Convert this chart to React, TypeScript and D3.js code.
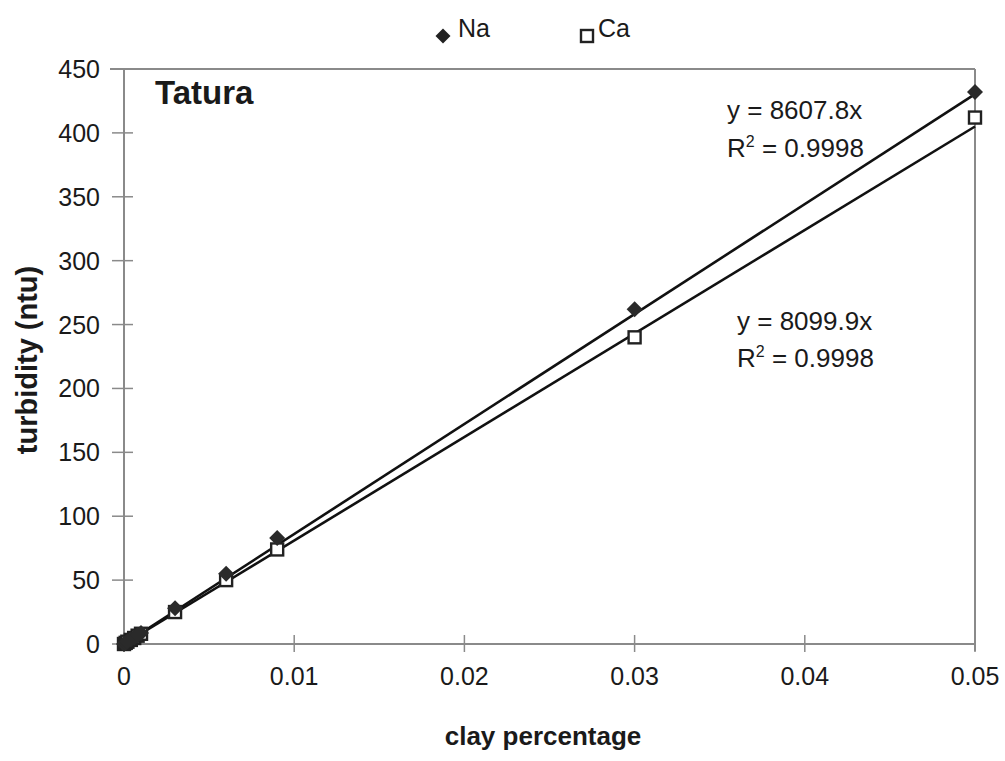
import React from "react";
import * as d3 from "d3";

const naX = [0, 0.0001, 0.0002, 0.0004, 0.0006, 0.0008, 0.001, 0.003, 0.006, 0.009, 0.03, 0.05];
const naY = [0, 1, 2, 3.5, 5, 7, 8.7, 28, 55, 83, 262, 432];
const caX = [0, 0.0001, 0.0002, 0.0004, 0.0006, 0.0008, 0.001, 0.003, 0.006, 0.009, 0.03, 0.05];
const caY = [0, 0.9, 1.8, 3.2, 4.7, 6.5, 8, 25, 50, 74, 240, 412];
const naSlope = 8607.8;
const caSlope = 8099.9;
const xTicks = [0, 0.01, 0.02, 0.03, 0.04, 0.05];
const yTicks = [0, 50, 100, 150, 200, 250, 300, 350, 400, 450];
const xTickLabels = ["0", "0.01", "0.02", "0.03", "0.04", "0.05"];

export default function App() {
  const x = d3.scaleLinear().domain([0, 0.05]).range([124, 975]);
  const y = d3.scaleLinear().domain([0, 450]).range([644, 69]);
  const line = d3
    .line<[number, number]>()
    .x((d) => x(d[0]))
    .y((d) => y(d[1]));
  const axisColor = "#8a8a8a";
  const ink = "#1a1a1a";
  const font = "Liberation Sans, Arial, sans-serif";
  const diamond = (cx: number, cy: number, r: number) =>
    `M${cx},${cy - r}L${cx + r},${cy}L${cx},${cy + r}L${cx - r},${cy}Z`;

  return (
    <svg
      width={1005}
      height={761}
      style={{ position: "absolute", left: 0, top: 0, background: "#fff" }}
      fontFamily={font}
    >
      {/* frame */}
      <line x1={110} x2={975} y1={y(450)} y2={y(450)} stroke={axisColor} strokeWidth={2} />
      <line x1={975} x2={975} y1={y(450)} y2={y(0) + 7} stroke={axisColor} strokeWidth={2} />
      <line x1={x(0)} x2={x(0)} y1={y(450)} y2={y(0)} stroke={axisColor} strokeWidth={2} />
      <line x1={x(0)} x2={975} y1={y(0)} y2={y(0)} stroke={axisColor} strokeWidth={2} />
      {yTicks.map((t) => (
        <g key={"y" + t}>
          <line x1={x(0) - 12} x2={x(0) + 9} y1={y(t)} y2={y(t)} stroke={axisColor} strokeWidth={1.5} />
          <text x={100} y={y(t)} dy="0.36em" textAnchor="end" fontSize={25} fill={ink}>
            {t}
          </text>
        </g>
      ))}
      {xTicks.map((t, i) => (
        <g key={"x" + t}>
          <line x1={x(t)} x2={x(t)} y1={y(0) - 9} y2={y(0) + 8} stroke={axisColor} strokeWidth={1.5} />
          <text x={x(t)} y={685} textAnchor="middle" fontSize={25} fill={ink}>
            {xTickLabels[i]}
          </text>
        </g>
      ))}

      {/* trend lines */}
      <path d={line([[0, 0], [0.05, naSlope * 0.05]]) || ""} stroke="#111" strokeWidth={2.6} fill="none" />
      <path d={line([[0, 0], [0.05, caSlope * 0.05]]) || ""} stroke="#111" strokeWidth={2.6} fill="none" />

      {/* Ca markers */}
      {caX.map((v, i) => (
        <rect
          key={"ca" + i}
          x={x(v) - 6}
          y={y(caY[i]) - 6}
          width={12}
          height={12}
          fill="#fff"
          stroke="#222"
          strokeWidth={2.4}
        />
      ))}
      {/* Na markers */}
      {naX.map((v, i) => (
        <path key={"na" + i} d={diamond(x(v), y(naY[i]), 8)} fill="#2a2a2a" />
      ))}

      {/* legend */}
      <path d={diamond(443, 36, 7.5)} fill="#222" />
      <text x={458} y={37} fontSize={25} fill={ink}>Na</text>
      <rect x={581} y={30} width={12} height={12} fill="#fff" stroke="#222" strokeWidth={2.4} />
      <text x={598} y={37} fontSize={25} fill={ink}>Ca</text>

      {/* title inside */}
      <text x={155} y={104} fontSize={33} fontWeight="bold" fill={ink}>Tatura</text>

      {/* annotations */}
      <text x={727} y={119} fontSize={26} fill={ink}>y = 8607.8x</text>
      <text x={727} y={157} fontSize={26} fill={ink}>
        R<tspan dy={-10} fontSize={16}>2</tspan><tspan dy={10}> = 0.9998</tspan>
      </text>
      <text x={737} y={330} fontSize={26} fill={ink}>y = 8099.9x</text>
      <text x={737} y={367} fontSize={26} fill={ink}>
        R<tspan dy={-10} fontSize={16}>2</tspan><tspan dy={10}> = 0.9998</tspan>
      </text>

      {/* axis titles */}
      <text x={543} y={745} textAnchor="middle" fontSize={26} fontWeight="bold" fill={ink}>
        clay percentage
      </text>
      <text
        transform="translate(37,360) rotate(-90)"
        textAnchor="middle"
        fontSize={29}
        fontWeight="bold"
        fill={ink}
      >
        turbidity (ntu)
      </text>
    </svg>
  );
}
